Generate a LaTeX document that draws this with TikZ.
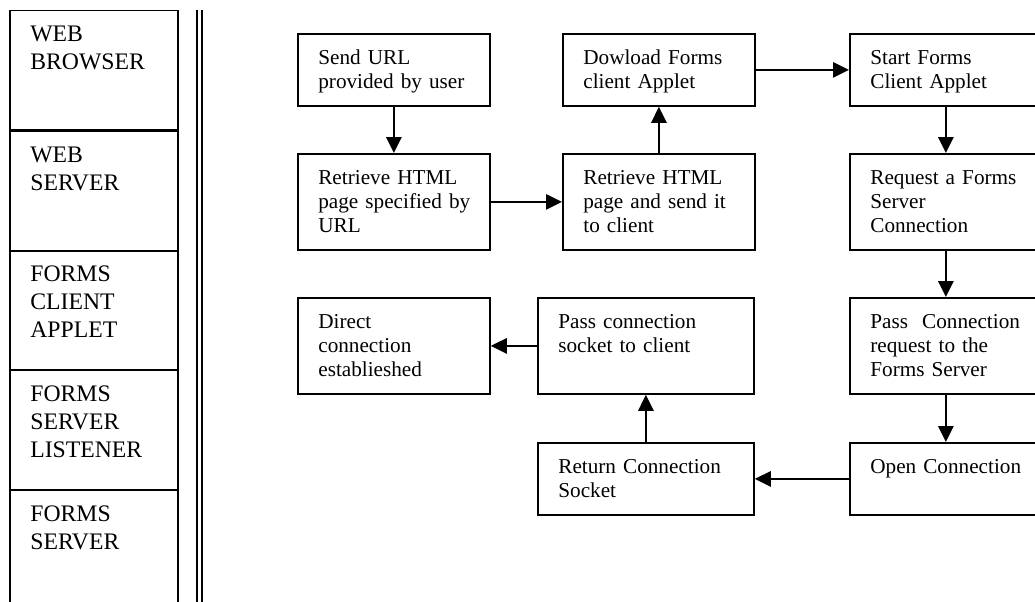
\documentclass[tikz,border=0pt]{standalone}
\usepackage{fontspec}
\setmainfont{Liberation Serif}
\usetikzlibrary{arrows.meta}

\begin{document}
\begin{tikzpicture}[x=0.02cm, y=-0.02cm,
    cell/.style={draw, line width=0.036cm, anchor=north west, inner sep=0pt,
      minimum width=3.37cm, minimum height=2.4cm},
    celltext/.style={anchor=base west, align=left, text width=3cm, inner sep=0pt,
      font=\fontsize{13.49}{15.94}\selectfont},
    flowbox/.style={draw, line width=0.036cm, anchor=north west, inner sep=0pt,
      minimum width=3.84cm},
    short/.style={minimum height=1.44cm},
    tall/.style={minimum height=1.92cm},
    wide/.style={minimum width=4.32cm},
    flowtext/.style={anchor=base west, align=left, text width=4cm, inner sep=0pt,
      font=\fontsize{12.07}{13.66}\selectfont},
    flowarrow/.style={line width=0.054cm, -{Triangle[length=0.32cm, width=0.3cm]}}]
    \useasboundingbox (0,0) rectangle (1035,602);

    \foreach \y/\name/\txt in {9.5/browser/{WEB\\BROWSER}, 130/webserver/{WEB\\SERVER},
        249.5/applet/{FORMS\\CLIENT\\APPLET}, 369/listener/{FORMS\\SERVER\\LISTENER},
        489/formserver/{FORMS\\SERVER}} {
      \node[cell] (\name) at (9,\y) {};
      \node[celltext] (\name-t) at ([shift={(21,32)}]\name.north west) {\txt};
    }
    \draw[line width=0.035cm, double, double distance=0.066cm] (199.5,9.5) -- (199.5,610);

    \node[flowbox, short] (send) at (297,33) {};
    \node[flowbox, short] (dload) at (562,33) {};
    \node[flowbox, short] (start) at (849,33) {};
    \node[flowbox, tall] (retr) at (297,153) {};
    \node[flowbox, tall] (retrsend) at (562,153) {};
    \node[flowbox, tall] (request) at (849,153) {};
    \node[flowbox, tall] (direct) at (297,297) {};
    \node[flowbox, tall, wide] (passsock) at (537,297) {};
    \node[flowbox, tall] (passreq) at (849,297) {};
    \node[flowbox, short, wide] (retsock) at (537,442) {};
    \node[flowbox, short] (open) at (849,442) {};

    \node[flowtext] (send-t) at ([shift={(21,31)}]send.north west) {Send URL\\provided by user};
    \node[flowtext] (dload-t) at ([shift={(21,31)}]dload.north west) {Dowload Forms\\client Applet};
    \node[flowtext] (start-t) at ([shift={(21,31)}]start.north west) {Start Forms\\Client Applet};
    \node[flowtext] (retr-t) at ([shift={(21,31)}]retr.north west) {Retrieve HTML\\page specified by\\URL};
    \node[flowtext] (retrsend-t) at ([shift={(21,31)}]retrsend.north west) {Retrieve HTML\\page and send it\\to client};
    \node[flowtext] (request-t) at ([shift={(21,31)}]request.north west) {Request a Forms\\Server\\Connection};
    \node[flowtext] (direct-t) at ([shift={(21,31)}]direct.north west) {Direct\\connection\\establieshed};
    \node[flowtext] (passsock-t) at ([shift={(21,31)}]passsock.north west) {Pass connection\\socket to client};
    \node[flowtext] (passreq-t) at ([shift={(21,31)}]passreq.north west) {Pass\ \ Connection\\request to the\\Forms Server};
    \node[flowtext] (retsock-t) at ([shift={(21,31)}]retsock.north west) {Return Connection\\Socket};
    \node[flowtext] (open-t) at ([shift={(21,31)}]open.north west) {Open Connection};

    \draw[flowarrow] (send) -- (retr);
    \draw[flowarrow] (retr) -- (retrsend);
    \draw[flowarrow] (retrsend) -- (dload);
    \draw[flowarrow] (dload) -- (start);
    \draw[flowarrow] (start) -- (request);
    \draw[flowarrow] (request) -- (passreq);
    \draw[flowarrow] (passreq) -- (open);
    \draw[flowarrow] (open) -- (retsock);
    \draw[flowarrow] (retsock) -- (passsock);
    \draw[flowarrow] (passsock) -- (direct);
\end{tikzpicture}
\end{document}
